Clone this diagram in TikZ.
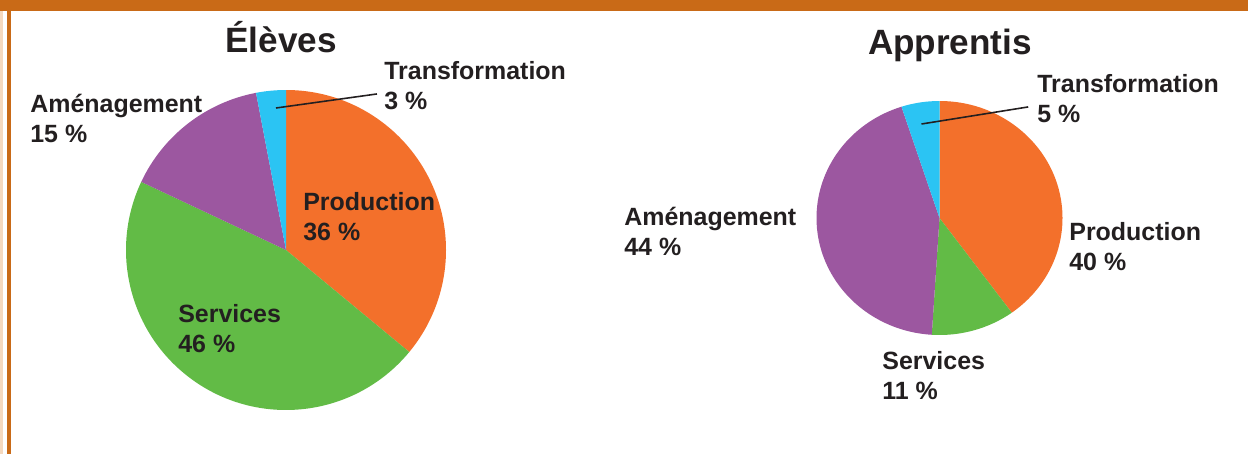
\documentclass[tikz,border=0pt]{standalone}
\usepackage{fontspec}
\setmainfont{Liberation Sans}
\usepackage{xcolor}
\usepackage{tikz}
\usetikzlibrary{positioning}
\definecolor{bandorange}{HTML}{C96A17}
\definecolor{peach}{HTML}{F5D9BF}
\definecolor{prod}{HTML}{F3702B}
\definecolor{serv}{HTML}{62BB46}
\definecolor{amen}{HTML}{9C57A0}
\definecolor{trans}{HTML}{2BC4F3}
\definecolor{ink}{HTML}{231F20}
\tikzset{lbl/.style={anchor=base west,inner sep=0pt,align=left,text=ink,font=\fontsize{14.2}{17}\selectfont\bfseries},
ttl/.style={anchor=base,inner sep=0pt,text=ink,font=\fontsize{20}{24}\selectfont\bfseries}}

\begin{document}
\begin{tikzpicture}[x=0.02cm,y=0.02cm]
        \useasboundingbox (0,0) rectangle (1248,454);
        \fill[white] (0,0) rectangle (1248,454);
        % frame
        \fill[bandorange] (0,443) rectangle (1248,454);
        \fill[peach] (0,0) rectangle (3.5,443);
        \fill[bandorange] (7,0) rectangle (10.5,443);

        % left pie
        \coordinate (e) at (286,204);
        \fill[prod] (e) -- ++(90:160) arc[start angle=90,end angle=-39.6,radius=160] -- cycle;
        \fill[serv] (e) -- ++(-39.6:160) arc[start angle=-39.6,end angle=-205.2,radius=160] -- cycle;
        \fill[amen] (e) -- ++(-205.2:160) arc[start angle=-205.2,end angle=-259.2,radius=160] -- cycle;
        \fill[trans] (e) -- ++(-259.2:160) arc[start angle=-259.2,end angle=-270,radius=160] -- cycle;

        % right pie
        \coordinate (a) at (939.5,236);
        \fill[prod] (a) -- ++(90:123 and 117) arc[start angle=90,end angle=-54,x radius=123,y radius=117] -- cycle;
        \fill[serv] (a) -- ++(-54:123 and 117) arc[start angle=-54,end angle=-93.6,x radius=123,y radius=117] -- cycle;
        \fill[amen] (a) -- ++(-93.6:123 and 117) arc[start angle=-93.6,end angle=-252,x radius=123,y radius=117] -- cycle;
        \fill[trans] (a) -- ++(-252:123 and 117) arc[start angle=-252,end angle=-270,x radius=123,y radius=117] -- cycle;

        \node[ttl] (et) at (281,401) {Élèves};
        \node[ttl] (at) at (950,399) {Apprentis};

        \node[lbl] (etr) at (384,345) {Transformation\\3 \%};
        \node[lbl] (eam) at (30,312) {Aménagement\\15 \%};
        \node[lbl] (epr) at (303,214) {Production\\36 \%};
        \node[lbl] (ese) at (178,102) {Services\\46 \%};

        \node[lbl] (atr) at (1037,332) {Transformation\\5 \%};
        \node[lbl] (aam) at (624,199) {Aménagement\\44 \%};
        \node[lbl] (apr) at (1069,184) {Production\\40 \%};
        \node[lbl] (ase) at (882,55) {Services\\11 \%};

        \coordinate (etp) at (276,346);
        \coordinate (atp) at (921.5,330);
        \draw[ink,line width=0.9pt] (etp) -- ([xshift=-4,yshift=-5]etr.west);
        \draw[ink,line width=0.9pt] (atp) -- ([xshift=-5,yshift=-5]atr.west);
    \end{tikzpicture}
\end{document}
